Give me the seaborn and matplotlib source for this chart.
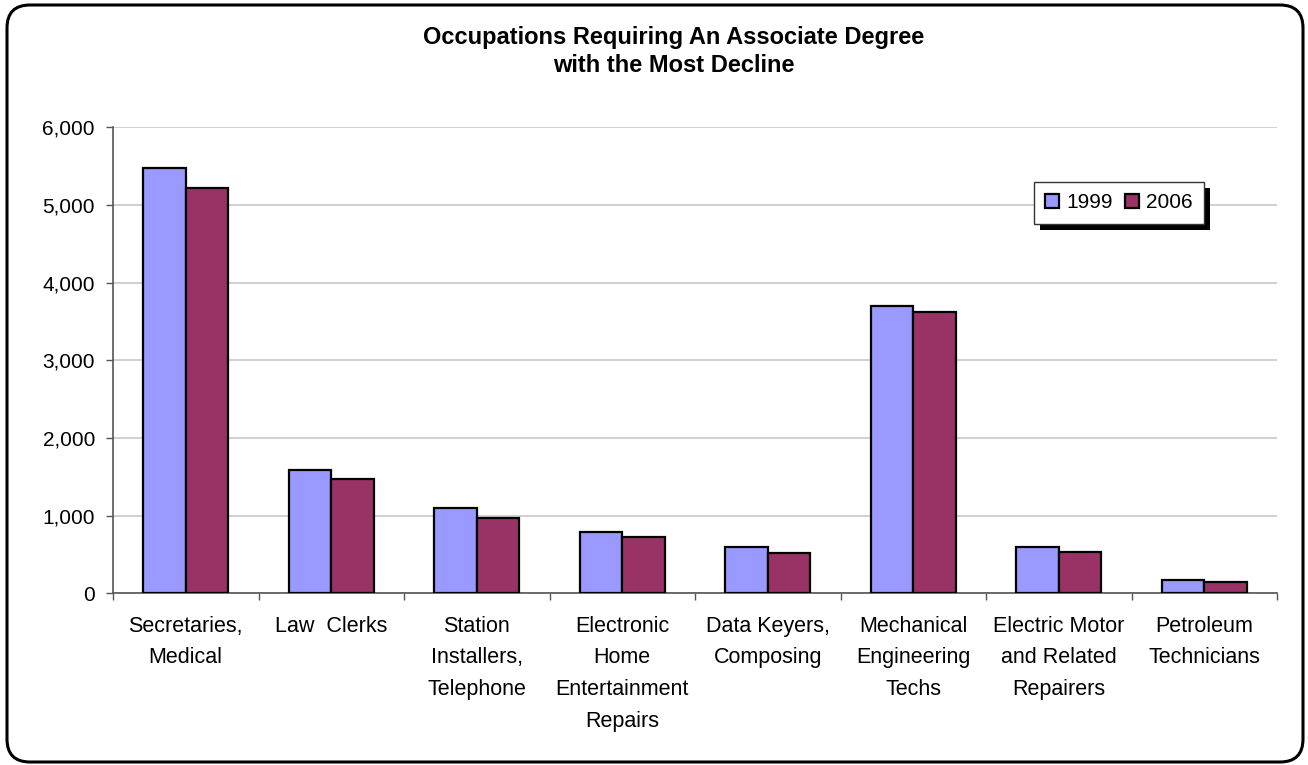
import matplotlib
matplotlib.use("Agg")
import matplotlib.pyplot as plt
from matplotlib.patches import FancyBboxPatch, Rectangle
import seaborn as sns
import pandas as pd

categories = [
    "Secretaries,\nMedical",
    "Law  Clerks",
    "Station\nInstallers,\nTelephone",
    "Electronic\nHome\nEntertainment\nRepairs",
    "Data Keyers,\nComposing",
    "Mechanical\nEngineering\nTechs",
    "Electric Motor\nand Related\nRepairers",
    "Petroleum\nTechnicians",
]
values_1999 = [5480, 1590, 1100, 795, 592, 3700, 592, 176]
values_2006 = [5220, 1470, 975, 720, 515, 3625, 536, 150]
series_names = ["1999", "2006"]
y_ticks = [0, 1000, 2000, 3000, 4000, 5000, 6000]
y_tick_labels = ["0", "1,000", "2,000", "3,000", "4,000", "5,000", "6,000"]
title = "Occupations Requiring An Associate Degree\nwith the Most Decline"

colors = {"1999": "#9999FF", "2006": "#993366"}

df = pd.DataFrame({
    "category": categories * 2,
    "year": [series_names[0]] * len(categories) + [series_names[1]] * len(categories),
    "value": values_1999 + values_2006,
})

sns.set_style("white")
plt.rcParams["font.family"] = ["Liberation Sans", "DejaVu Sans"]
plt.rcParams["text.color"] = "black"
plt.rcParams["xtick.color"] = "black"
plt.rcParams["ytick.color"] = "black"

fig = plt.figure(figsize=(13.08, 7.65), dpi=100)
fig.patch.set_facecolor("white")
ax = fig.add_axes([113 / 1308, 1 - 593.3 / 765, (1277 - 113) / 1308, (593.3 - 127.3) / 765])
ax.set_facecolor("none")

sns.barplot(data=df, x="category", y="value", hue="year", order=categories,
            hue_order=series_names, palette=colors, width=0.585, gap=0,
            edgecolor="black", linewidth=1.6, saturation=1, ax=ax, zorder=3)

ax.set_xlim(-0.5, len(categories) - 0.5)
ax.set_ylim(0, 6000)
ax.set_yticks(y_ticks, y_tick_labels)
ax.yaxis.grid(True, color="#c8c8c8", linewidth=1.2, zorder=0)
ax.xaxis.grid(False)
ax.set_axisbelow(True)
ax.set_xlabel("")
ax.set_ylabel("")

# category boundary ticks (major) and centered labels (minor)
ax.set_xticks([i - 0.5 for i in range(len(categories) + 1)])
ax.set_xticklabels([""] * (len(categories) + 1))
ax.set_xticks(list(range(len(categories))), minor=True)
ax.set_xticklabels(categories, minor=True, fontsize=15.5, linespacing=1.68, color="black")
ax.tick_params(axis="x", which="major", length=5, width=1, color="#555555", direction="out", bottom=True)
ax.tick_params(axis="x", which="minor", length=0, pad=16)
ax.tick_params(axis="y", which="major", length=5, width=1, color="#555555", direction="out",
               left=True, labelsize=15, pad=8, labelcolor="black")

for side in ["top", "right"]:
    ax.spines[side].set_visible(False)
for side in ["left", "bottom"]:
    ax.spines[side].set_color("#555555")
    ax.spines[side].set_linewidth(1.2)

leg = ax.legend(loc="upper left", bbox_to_anchor=((1034 - 113) / 1164, 1 - (181.7 - 127.3) / 466),
                frameon=True, fancybox=False, fontsize=15, ncol=2, handlelength=0.65,
                handleheight=0.65, handletextpad=0.35, columnspacing=0.6, borderpad=0.55,
                borderaxespad=0, title=None, framealpha=1)
leg.get_frame().set_edgecolor("#333333")
leg.get_frame().set_linewidth(1.0)
leg.get_frame().set_facecolor("white")
for t in leg.get_texts():
    t.set_color("black")
for h in leg.legend_handles:
    h.set_edgecolor("black")
    h.set_linewidth(1.6)

fig.canvas.draw()
bb = leg.get_window_extent()
shadow = Rectangle((bb.x0 + 6, bb.y0 - 6), bb.width, bb.height, transform=None,
                   facecolor="black", edgecolor="none", zorder=4.9)
ax.add_artist(shadow)

fig.text(674 / 1308, 1 - 26 / 765, title, ha="center", va="top", fontsize=17,
         fontweight="bold", linespacing=1.25, color="black")

border = FancyBboxPatch((7 / 100, 3 / 100), 1296 / 100, 757 / 100,
                        boxstyle="round,pad=0,rounding_size=0.23",
                        transform=fig.dpi_scale_trans, facecolor="none",
                        edgecolor="black", linewidth=2.2, zorder=10)
fig.patches.append(border)

fig.savefig("out.png", dpi=100, facecolor="white")
